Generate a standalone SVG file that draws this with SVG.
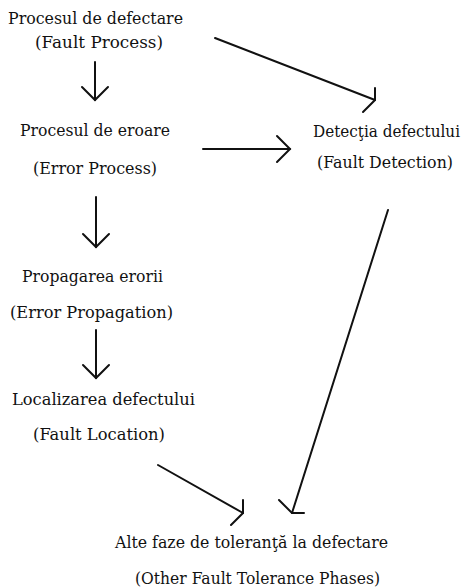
<svg xmlns="http://www.w3.org/2000/svg" width="473" height="588" viewBox="0 0 473 588">
  <style>
    .lbl { font-family: "DejaVu Serif", "Liberation Serif", serif; font-size: 17.5px; fill: #111; }
    .narrow { font-size: 16px; }
    .edge { fill: none; stroke: #111; stroke-width: 2; stroke-linecap: round; stroke-linejoin: miter; }
  </style>
  <rect width="473" height="588" fill="#fff"/>

  <g id="fault-process">
    <text class="lbl" x="8" y="24" textLength="175" lengthAdjust="spacingAndGlyphs">Procesul de defectare</text>
    <text class="lbl" x="35" y="48" textLength="128" lengthAdjust="spacingAndGlyphs">(Fault Process)</text>
  </g>
  <g id="error-process">
    <text class="lbl" x="20" y="136" textLength="150" lengthAdjust="spacingAndGlyphs">Procesul de eroare</text>
    <text class="lbl" x="33" y="174" textLength="124" lengthAdjust="spacingAndGlyphs">(Error Process)</text>
  </g>
  <g id="error-propagation">
    <text class="lbl" x="22" y="282" textLength="141" lengthAdjust="spacingAndGlyphs">Propagarea erorii</text>
    <text class="lbl" x="10" y="318" textLength="163" lengthAdjust="spacingAndGlyphs">(Error Propagation)</text>
  </g>
  <g id="fault-location">
    <text class="lbl" x="12" y="405" textLength="183" lengthAdjust="spacingAndGlyphs">Localizarea defectului</text>
    <text class="lbl" x="33" y="440" textLength="132" lengthAdjust="spacingAndGlyphs">(Fault Location)</text>
  </g>
  <g id="fault-detection">
    <text class="lbl narrow" x="313" y="137" textLength="147" lengthAdjust="spacingAndGlyphs">Detecţia defectului</text>
    <text class="lbl narrow" x="317" y="168" textLength="136" lengthAdjust="spacingAndGlyphs">(Fault Detection)</text>
  </g>
  <g id="other-phases">
    <text class="lbl" x="115" y="548" textLength="273" lengthAdjust="spacingAndGlyphs">Alte faze de toleranţă la defectare</text>
    <text class="lbl" x="135" y="584" textLength="245" lengthAdjust="spacingAndGlyphs">(Other Fault Tolerance Phases)</text>
  </g>

  <g id="connectors">
    <!-- vertical chain -->
    <line class="edge" x1="95" y1="62" x2="95" y2="100"/>
    <polyline class="edge" points="82,87 95,100 108,87"/>
    <line class="edge" x1="96" y1="197" x2="96" y2="247"/>
    <polyline class="edge" points="83,234 96,247 109,234"/>
    <line class="edge" x1="96" y1="330" x2="96" y2="378"/>
    <polyline class="edge" points="83,365 96,378 109,365"/>
    <!-- error process to detection -->
    <line class="edge" x1="203" y1="149" x2="290" y2="149"/>
    <polyline class="edge" points="277,136 290,149 277,162"/>
    <!-- fault process to detection -->
    <line class="edge" x1="215" y1="38" x2="375" y2="100"/>
    <polyline class="edge" points="375,88 375,100 363,112"/>
    <!-- location to other phases -->
    <line class="edge" x1="158" y1="465" x2="243" y2="513"/>
    <polyline class="edge" points="243,500 243,513 231,525"/>
    <!-- detection to other phases -->
    <line class="edge" x1="388" y1="210" x2="292" y2="513"/>
    <polyline class="edge" points="279,500 292,513 304,513"/>
  </g>
</svg>
